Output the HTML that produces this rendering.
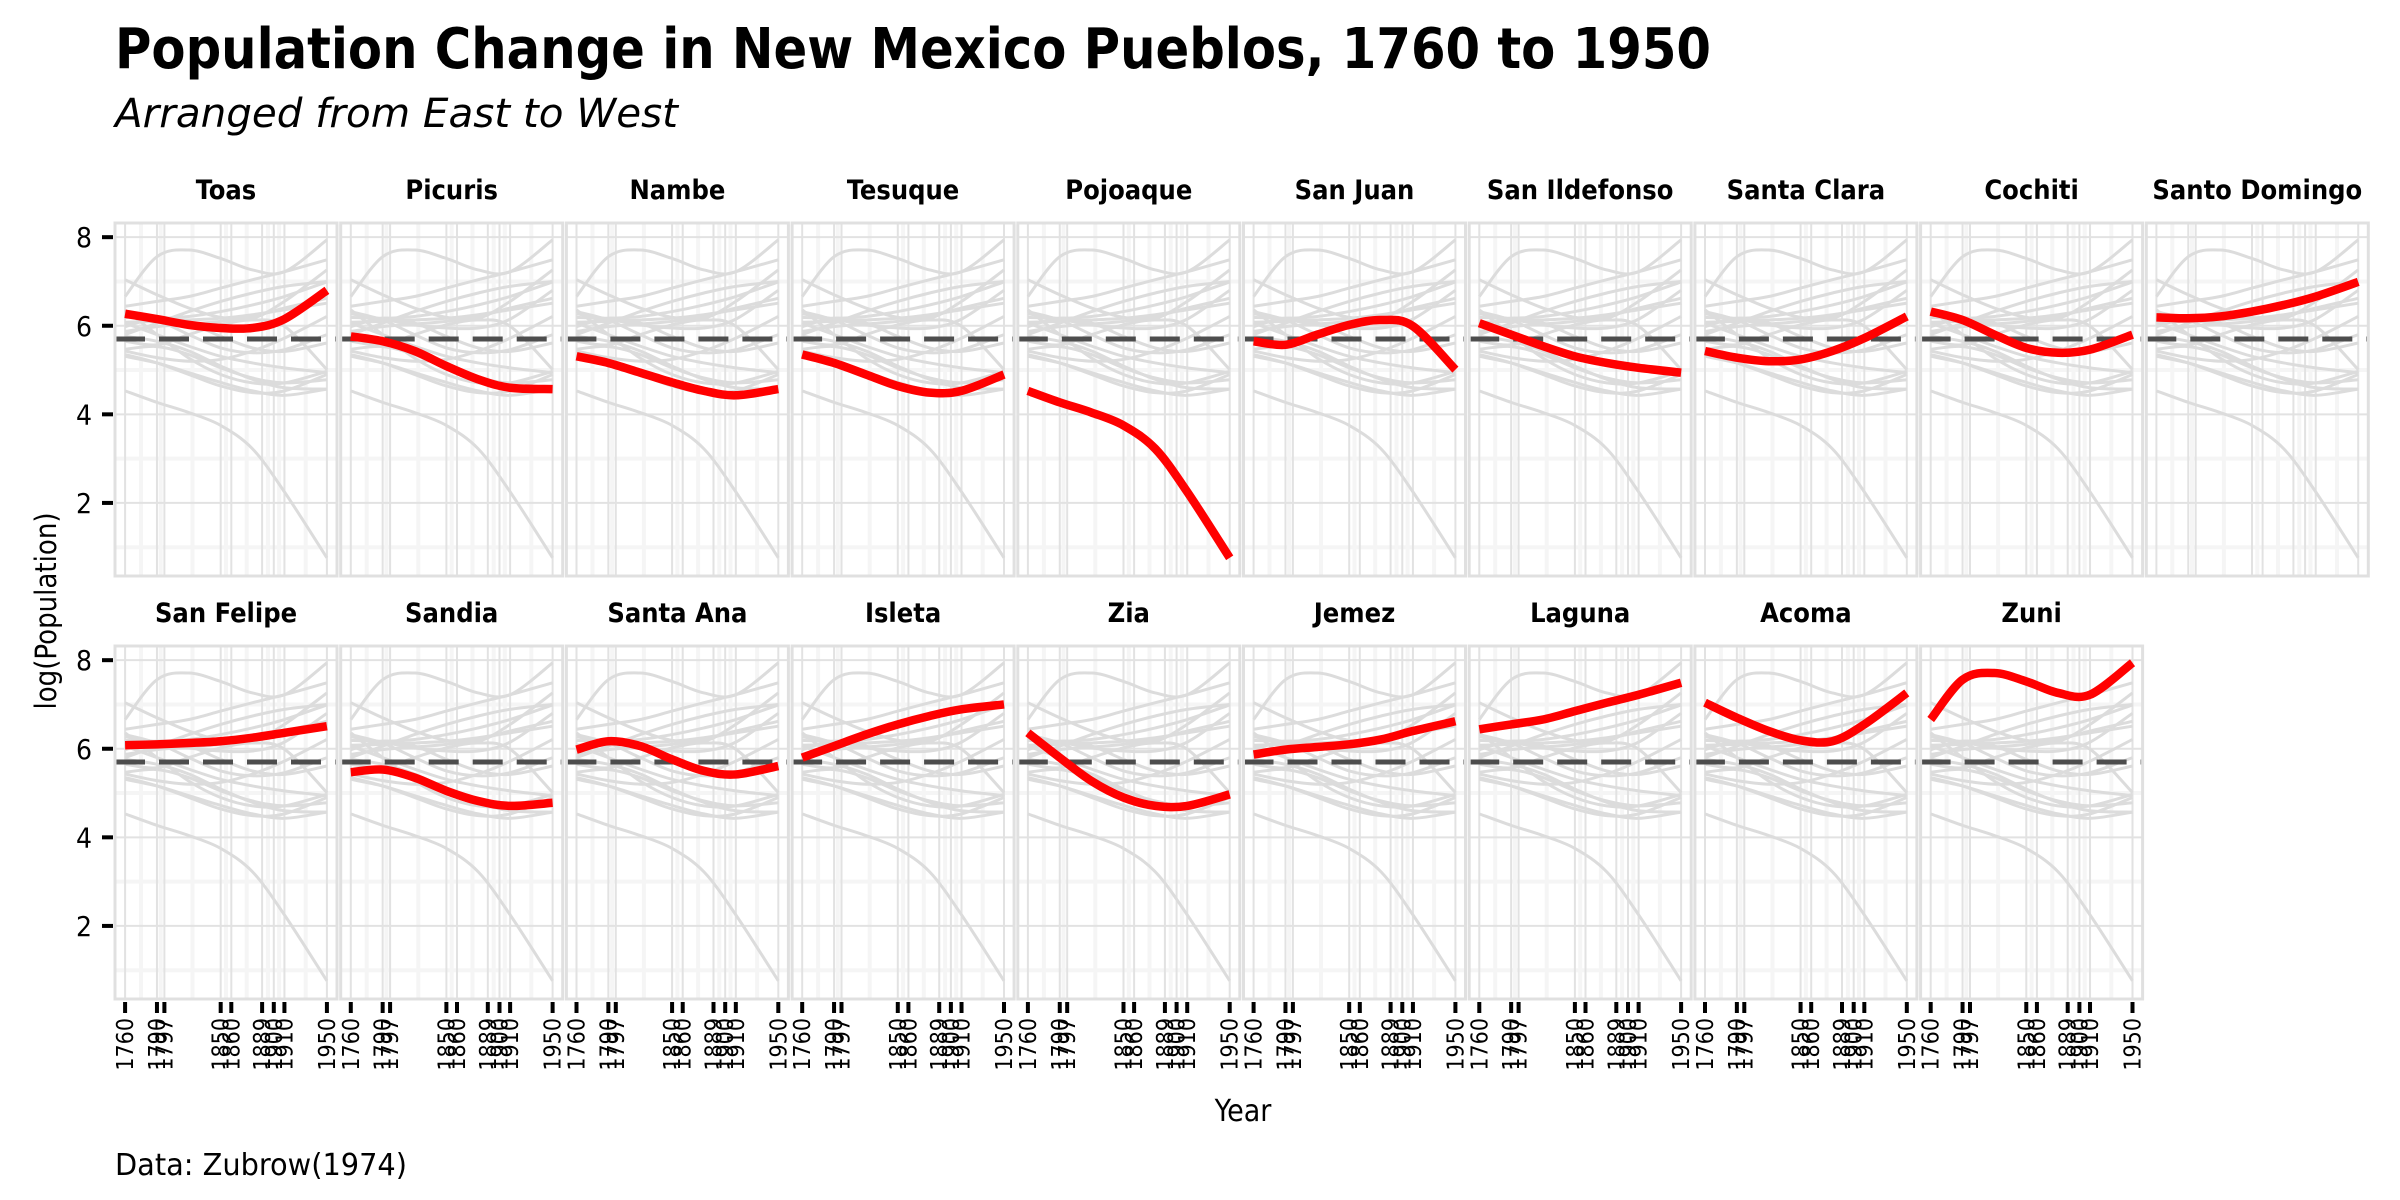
<!DOCTYPE html>
<html><head><meta charset="utf-8"><style>
html,body{margin:0;padding:0;background:#fff;}
svg{display:block;font-family:"DejaVu Sans Condensed","DejaVu Sans","Liberation Sans",sans-serif;}
</style></head><body>
<svg id="chart" width="2400" height="1200" viewBox="0 0 2400 1200" xmlns="http://www.w3.org/2000/svg">
<rect x="0" y="0" width="2400" height="1200" fill="#fff"/>
<text x="115" y="68" font-size="56" font-weight="bold" textLength="1596" lengthAdjust="spacingAndGlyphs">Population Change in New Mexico Pueblos, 1760 to 1950</text>
<text x="115" y="127" font-size="40" font-style="italic" textLength="563" lengthAdjust="spacingAndGlyphs">Arranged from East to West</text>
<g id="panels"></g>
<text transform="translate(56,611) rotate(-90)" text-anchor="middle" font-size="29">log(Population)</text>
<text x="1243" y="1121" text-anchor="middle" font-size="30">Year</text>
<text x="115" y="1175" font-size="30" textLength="292" lengthAdjust="spacingAndGlyphs">Data: Zubrow(1974)</text>
</svg>
<script>
const pueblos = ["Toas","Picuris","Nambe","Tesuque","Pojoaque","San Juan","San Ildefonso","Santa Clara","Cochiti","Santo Domingo","San Felipe","Sandia","Santa Ana","Isleta","Zia","Jemez","Laguna","Acoma","Zuni"];
const years = [1760,1790,1820,1850,1880,1910,1950];
const vToas = [6.27,6.15,6.02,5.95,5.95,6.15,6.8];
const vPicuris = [5.76,5.65,5.43,5.09,4.79,4.6,4.57];
const vNambe = [5.31,5.16,4.94,4.72,4.53,4.43,4.57];
const vTesuque = [5.35,5.16,4.9,4.64,4.49,4.53,4.9];
const vPojoaque = [4.53,4.27,4.04,3.75,3.22,2.25,0.76];
const vSanJuan = [5.65,5.57,5.8,6.02,6.13,5.99,5.01];
const vSanIldefonso = [6.06,5.8,5.54,5.31,5.16,5.05,4.94];
const vSantaClara = [5.43,5.28,5.2,5.24,5.43,5.72,6.21];
const vCochiti = [6.32,6.13,5.8,5.5,5.39,5.46,5.8];
const vSantoDomingo = [6.19,6.17,6.21,6.32,6.47,6.66,6.99];
const vSanFelipe = [6.08,6.1,6.13,6.17,6.25,6.36,6.51];
const vSandia = [5.47,5.53,5.35,5.05,4.82,4.71,4.78];
const vSantaAna = [5.98,6.17,6.06,5.76,5.5,5.42,5.61];
const vIsleta = [5.8,6.06,6.32,6.55,6.74,6.89,7.0];
const vZia = [6.36,5.8,5.27,4.9,4.71,4.71,4.97];
const vJemez = [5.87,5.98,6.04,6.1,6.21,6.4,6.62];
const vLaguna = [6.44,6.55,6.66,6.85,7.04,7.22,7.49];
const vAcoma = [7.04,6.7,6.4,6.19,6.17,6.55,7.26];
const vZuni = [6.66,7.56,7.71,7.52,7.26,7.22,7.94];
const seriesValues = [vToas,vPicuris,vNambe,vTesuque,vPojoaque,vSanJuan,vSanIldefonso,vSantaClara,vCochiti,vSantoDomingo,vSanFelipe,vSandia,vSantaAna,vIsleta,vZia,vJemez,vLaguna,vAcoma,vZuni];
const meanLog = 5.7;
const xTickYears = [1760,1790,1797,1850,1860,1889,1900,1910,1950];
const yTicks = [2,4,6,8];
const yMinor = [1,3,5,7];

const NS = "http://www.w3.org/2000/svg";
const host = document.getElementById('panels');
const PW = 222, PH = 353, STRIDE = 225.7, ROWSTEP = 423, LEFT0 = 115, TOP0 = 223;
const X0 = 1750.5, X1 = 1959.5, Y0 = 0.35, Y1 = 8.32;
function mk(tag, attrs, parent){const e=document.createElementNS(NS,tag);for(const k in attrs)e.setAttribute(k,attrs[k]);(parent||host).appendChild(e);return e;}
function xs(left, yr){return left + (yr - X0)/(X1 - X0)*PW;}
function ys(top, v){return top + PH - (v - Y0)/(Y1 - Y0)*PH;}
function pathFor(left, top, vals){
  const p = years.map((yr,i)=>[xs(left,yr), ys(top,vals[i])]);
  let d = "M"+p[0][0].toFixed(2)+","+p[0][1].toFixed(2);
  for(let i=0;i<p.length-1;i++){
    const p0=p[Math.max(0,i-1)],p1=p[i],p2=p[i+1],p3=p[Math.min(p.length-1,i+2)];
    const c1=[p1[0]+(p2[0]-p0[0])/6,p1[1]+(p2[1]-p0[1])/6];
    const c2=[p2[0]-(p3[0]-p1[0])/6,p2[1]-(p3[1]-p1[1])/6];
    d+=" C"+c1[0].toFixed(2)+","+c1[1].toFixed(2)+" "+c2[0].toFixed(2)+","+c2[1].toFixed(2)+" "+p2[0].toFixed(2)+","+p2[1].toFixed(2);
  }
  return d;
}
const minorYears = [];
for(let i=0;i<xTickYears.length-1;i++) minorYears.push((xTickYears[i]+xTickYears[i+1])/2);

pueblos.forEach((name, idx)=>{
  const c = idx % 10, r = Math.floor(idx/10);
  const left = LEFT0 + c*STRIDE, top = TOP0 + r*ROWSTEP;
  const g = mk('g', {});
  
  
  mk('rect',{x:left,y:top,width:PW,height:PH,fill:'#fff'},g);
  yMinor.forEach(v=>{mk('line',{x1:left,x2:left+PW,y1:ys(top,v),y2:ys(top,v),stroke:'#f5f5f5','stroke-width':4},g);});
  minorYears.forEach(yr=>{mk('line',{x1:xs(left,yr),x2:xs(left,yr),y1:top,y2:top+PH,stroke:'#f5f5f5','stroke-width':4},g);});
  yTicks.forEach(v=>{mk('line',{x1:left,x2:left+PW,y1:ys(top,v),y2:ys(top,v),stroke:'#e2e2e2','stroke-width':2},g);});
  xTickYears.forEach(yr=>{mk('line',{x1:xs(left,yr),x2:xs(left,yr),y1:top,y2:top+PH,stroke:'#e2e2e2','stroke-width':2},g);});
  seriesValues.forEach((vals,j)=>{
    const bg = mk('path',{d:pathFor(left,top,vals),fill:'none',stroke:'#dcdcdc','stroke-width':3},g);
    
    
  });
  const dl = mk('line',{x1:left,x2:left+PW,y1:ys(top,meanLog),y2:ys(top,meanLog),stroke:'#4d4d4d','stroke-width':5,'stroke-dasharray':'30 14'},g);
  
  
  const hl = mk('path',{d:pathFor(left,top,seriesValues[idx]),fill:'none',stroke:'#ff0000','stroke-width':8.5},g);
  
  
  mk('rect',{x:left,y:top,width:PW,height:PH,fill:'none',stroke:'#e0e0e0','stroke-width':3},g);
  const st = mk('text',{x:left+PW/2,y:top-24,'text-anchor':'middle','font-size':27,'font-weight':'bold'},g);
  st.textContent = name;
  
  
  if(r===1){
    xTickYears.forEach(yr=>{
      const x = xs(left,yr);
      mk('line',{x1:x,x2:x,y1:top+PH+3,y2:top+PH+14,stroke:'#000','stroke-width':4},g);
      const t = mk('text',{transform:'translate('+(x+8)+','+(top+PH+19)+') rotate(-90)','text-anchor':'end','font-size':23},g);
      t.textContent = yr;
      
      
    });
  }
  if(c===0){
    yTicks.forEach(v=>{
      const y = ys(top,v);
      mk('line',{x1:102,x2:113,y1:y,y2:y,stroke:'#000','stroke-width':4},g);
      const t = mk('text',{x:92,y:y+10,'text-anchor':'end','font-size':28},g);
      t.textContent = v;
      
      
    });
  }
});
</script>
</body></html>
